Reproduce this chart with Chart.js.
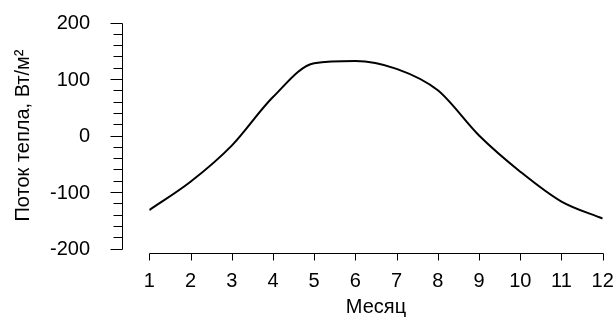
<!DOCTYPE html>
<html>
<head>
<meta charset="utf-8">
<script src="https://cdn.jsdelivr.net/npm/chart.js@4.4.0/dist/chart.umd.min.js"></script>
<style>
    html, body { margin: 0; padding: 0; background: #fff; }
    #wrap { width: 614px; height: 317px; }
</style>
</head>
<body>
<div id="wrap"><canvas id="fluxChart" width="614" height="317"></canvas></div>
<script>
// Data
const months = [1, 2, 3, 4, 5, 6, 7, 8, 9, 10, 11, 12];
const heatFlux = [-132, -82, -18, 68, 128, 132, 118, 80, 0, -64, -117, -147];
const yTicks = [-200, -100, 0, 100, 200];
const yMinorStep = 20;
const xTitle = 'Месяц';
const yTitle = 'Поток тепла, Вт/м²';

const FONT = '20px "Liberation Sans", Arial, sans-serif';

// R-style detached axes, drawn through the chart's own scales
const rAxes = {
    id: 'rAxes',
    afterDraw(chart) {
        const ctx = chart.ctx;
        const xs = chart.scales.x;
        const ys = chart.scales.y;
        const axisX = 122.5;
        const axisY = 253.5;

        ctx.save();
        ctx.strokeStyle = '#000';
        ctx.fillStyle = '#000';
        ctx.lineWidth = 1;
        ctx.font = FONT;

        // y axis line + ticks
        const yMin = yTicks[0], yMax = yTicks[yTicks.length - 1];
        ctx.beginPath();
        ctx.moveTo(axisX, Math.round(ys.getPixelForValue(yMax)) + 0.5);
        ctx.lineTo(axisX, Math.round(ys.getPixelForValue(yMin)) + 0.5);
        for (let v = yMin; v <= yMax; v += yMinorStep) {
            const p = Math.round(ys.getPixelForValue(v)) + 0.5;
            const len = yTicks.includes(v) ? 12 : 9;
            ctx.moveTo(axisX - len, p);
            ctx.lineTo(axisX, p);
        }
        ctx.stroke();

        ctx.textAlign = 'right';
        ctx.textBaseline = 'middle';
        yTicks.forEach(v => {
            ctx.fillText(String(v), 90, ys.getPixelForValue(v) + 1);
        });

        // x axis line + ticks
        ctx.beginPath();
        ctx.moveTo(Math.round(xs.getPixelForValue(months[0])) + 0.5, axisY);
        ctx.lineTo(Math.round(xs.getPixelForValue(months[months.length - 1])) + 0.5, axisY);
        months.forEach(m => {
            const p = Math.round(xs.getPixelForValue(m)) + 0.5;
            ctx.moveTo(p, axisY);
            ctx.lineTo(p, axisY + 7);
        });
        ctx.stroke();

        ctx.textAlign = 'center';
        ctx.textBaseline = 'alphabetic';
        months.forEach(m => {
            ctx.fillText(String(m), xs.getPixelForValue(m), 287);
        });

        // titles
        ctx.fillText(xTitle, (xs.left + xs.right) / 2, 313);

        ctx.save();
        ctx.translate(29, (ys.top + ys.bottom) / 2);
        ctx.rotate(-Math.PI / 2);
        ctx.fillText(yTitle, 0, 0);
        ctx.restore();

        ctx.restore();
    }
};

document.addEventListener('DOMContentLoaded', function() {
    const ctx = document.getElementById('fluxChart').getContext('2d');

    new Chart(ctx, {
        type: 'line',
        data: {
            datasets: [{
                data: months.map((m, i) => ({ x: m, y: heatFlux[i] })),
                borderColor: '#000',
                borderWidth: 2,
                pointRadius: 0,
                cubicInterpolationMode: 'monotone',
                fill: false
            }]
        },
        options: {
            responsive: false,
            animation: false,
            devicePixelRatio: 1,
            layout: {
                padding: { left: 149.3, right: 11.3, top: 22.5, bottom: 68.5 }
            },
            scales: {
                x: { type: 'linear', min: 1, max: 12, display: false },
                y: { type: 'linear', min: -200, max: 200, display: false }
            },
            plugins: {
                legend: { display: false },
                tooltip: { enabled: false }
            }
        },
        plugins: [rAxes]
    });
});
</script>
</body>
</html>
